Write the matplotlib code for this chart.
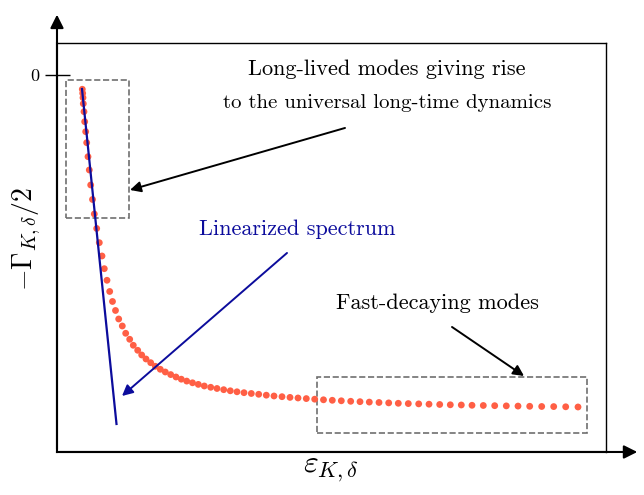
import matplotlib
matplotlib.use("Agg")
import matplotlib.pyplot as plt
from matplotlib.patches import Rectangle

plt.rcParams['mathtext.fontset'] = 'cm'
plt.rcParams['font.family'] = ['cmr10', 'DejaVu Serif']
plt.rcParams['axes.unicode_minus'] = False

# spectrum points (energy, -Gamma/2), arbitrary units
eps = [0.253, 0.257, 0.260, 0.263, 0.270, 0.277, 0.287, 0.297, 0.310, 0.323,
       0.337, 0.355, 0.373, 0.397, 0.423, 0.450, 0.473, 0.500, 0.527, 0.555,
       0.585, 0.617, 0.653, 0.687, 0.727, 0.763, 0.807, 0.847, 0.890, 0.937,
       0.983, 1.033, 1.083, 1.137, 1.190, 1.243, 1.297, 1.355, 1.413, 1.473,
       1.537, 1.600, 1.667, 1.733, 1.800, 1.870, 1.943, 2.017, 2.093, 2.170,
       2.250, 2.330, 2.410, 2.493, 2.577, 2.665, 2.753, 2.843, 2.937, 3.030,
       3.123, 3.220, 3.317, 3.413, 3.513, 3.617, 3.720, 3.827, 3.933, 4.043,
       4.150, 4.263, 4.377, 4.493, 4.610, 4.727, 4.847, 4.967, 5.087, 5.210]
half_gamma = [-0.143, -0.183, -0.227, -0.287, -0.367, -0.467, -0.567, -0.677, -0.817, -0.950,
              -1.100, -1.245, -1.390, -1.535, -1.677, -1.810, -1.937, -2.053, -2.165, -2.265,
              -2.355, -2.440, -2.510, -2.583, -2.643, -2.703, -2.753, -2.800, -2.840, -2.877,
              -2.913, -2.943, -2.970, -2.996, -3.020, -3.042, -3.061, -3.078, -3.094, -3.110,
              -3.123, -3.135, -3.147, -3.158, -3.168, -3.177, -3.185, -3.193, -3.202, -3.210,
              -3.217, -3.224, -3.230, -3.236, -3.242, -3.248, -3.253, -3.258, -3.263, -3.267,
              -3.271, -3.275, -3.279, -3.283, -3.286, -3.289, -3.292, -3.295, -3.298, -3.300,
              -3.303, -3.305, -3.307, -3.309, -3.311, -3.313, -3.315, -3.316, -3.318, -3.320]

# linearized spectrum (end points)
lin_eps = [0.25, 0.595]
lin_gamma = [-0.14, -3.49]

blue = '#0c0c9c'

fig = plt.figure(figsize=(6.44, 4.95), dpi=100)
ax = fig.add_axes([0.0885, 0.0869, 0.8525, 0.8263])

ax.plot(lin_eps, lin_gamma, color=blue, lw=1.6, zorder=3)
ax.scatter(eps, half_gamma, s=24, color='#ff5f45', edgecolors='none', zorder=2)

ax.set_xlim(0, 5.49)
ax.set_ylim(-3.77, 0.32)
ax.set_xticks([])
ax.set_yticks([0])
ax.set_yticklabels(['0'], fontsize=13)
ax.tick_params(axis='y', direction='inout', length=18, width=1.0, pad=4)

for s in ['top', 'right']:
    ax.spines[s].set_linewidth(1.0)
for s in ['left', 'bottom']:
    ax.spines[s].set_linewidth(1.5)

# axis arrows
ax.annotate('', xy=(0, 1.076), xycoords='axes fraction', xytext=(0, 0),
            arrowprops=dict(arrowstyle='-|>', color='black', lw=1.5, mutation_scale=20))
ax.annotate('', xy=(1.062, 0), xycoords='axes fraction', xytext=(0, 0),
            arrowprops=dict(arrowstyle='-|>', color='black', lw=1.5, mutation_scale=20))

ax.set_xlabel(r'$\varepsilon_{K,\delta}$', fontsize=23, labelpad=3)
ax.set_ylabel(r'$-\Gamma_{K,\delta}/2$', fontsize=20)
ax.yaxis.set_label_coords(-0.026, 0.52)

# highlighted regions
ax.add_patch(Rectangle((0.09, -1.43), 0.63, 1.38, fill=False, ls='--',
                       ec='#707070', lw=1.2))
ax.add_patch(Rectangle((2.60, -3.58), 2.70, 0.56, fill=False, ls='--',
                       ec='#707070', lw=1.2))

ax.text(3.30, 0.06, 'Long-lived modes giving rise', ha='center', va='center', fontsize=16)
ax.text(3.30, -0.28, 'to the universal long-time dynamics', ha='center', va='center', fontsize=15)
ax.annotate('', xy=(0.73, -1.15), xytext=(2.88, -0.53),
            arrowprops=dict(arrowstyle='-|>', color='black', lw=1.4, mutation_scale=16,
                            shrinkA=0, shrinkB=0))

ax.text(2.40, -1.54, 'Linearized spectrum', ha='center', va='center', fontsize=16, color=blue)
ax.annotate('', xy=(0.65, -3.21), xytext=(2.30, -1.78),
            arrowprops=dict(arrowstyle='-|>', color=blue, lw=1.4, mutation_scale=16,
                            shrinkA=0, shrinkB=0))

ax.text(3.80, -2.28, 'Fast-decaying modes', ha='center', va='center', fontsize=16)
ax.annotate('', xy=(4.67, -3.01), xytext=(3.95, -2.52),
            arrowprops=dict(arrowstyle='-|>', color='black', lw=1.4, mutation_scale=16,
                            shrinkA=0, shrinkB=0))

fig.savefig('out.png', dpi=100)
